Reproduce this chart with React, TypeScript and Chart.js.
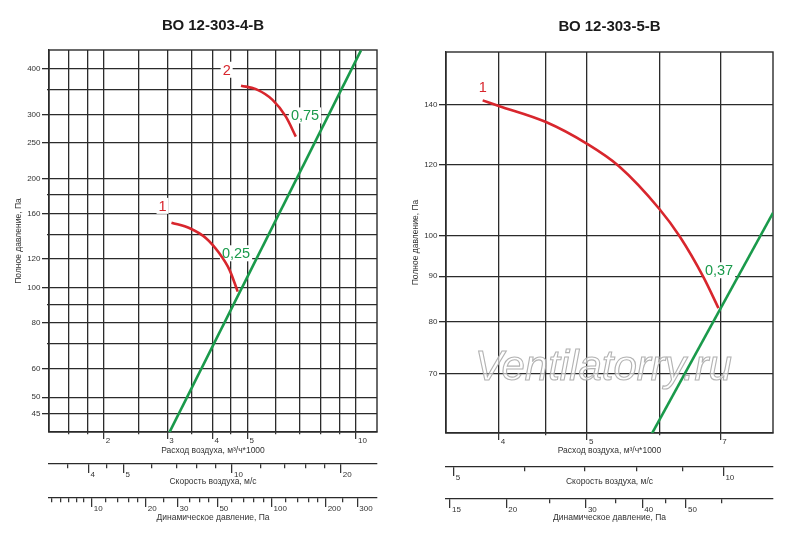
import { useEffect, useRef } from 'react'
import { Chart, registerables } from 'chart.js'

Chart.register(...registerables)

const SANS = '"Liberation Sans", Arial, sans-serif'
const INK = '#2b2b2b'
const RED = '#d8262d'
const GREEN = '#1a9a4b'

// ВО 12-303-4-В
const leftFlowRange = [1.41, 11.43]
const leftPressRange = [40.1, 451]
const leftSpeedRange = [3.11, 25.2]
const leftDynRange = [5.79, 386]
const leftFlowGrid = [1.6, 1.8, 2, 2.5, 3, 3.5, 4, 4.5, 5, 6, 7, 8, 9, 10]
const leftFlowLabels = [2, 3, 4, 5, 10]
const leftPressGrid = [45, 50, 60, 70, 80, 90, 100, 120, 140, 160, 180, 200, 250, 300, 350, 400]
const leftPressLabels = [45, 50, 60, 80, 100, 120, 160, 200, 250, 300, 400]
const leftSpeedTicks = [3.5, 4, 4.5, 5, 6, 7, 8, 9, 10, 12, 14, 16, 18, 20]
const leftSpeedLabels = [4, 5, 10, 20]
const leftDynTicks = [6, 6.7, 7.4, 8.2, 9, 10, 12, 14, 16, 18, 20, 25, 30, 35, 40, 45, 50, 60, 70, 80, 90, 100, 120, 140, 160, 180, 200, 250, 300]
const leftDynLabels = [10, 20, 30, 50, 100, 200, 300]

const leftFan1Flow = [3.08, 3.46, 3.84, 4.18, 4.46, 4.7]
const leftFan1Press = [151, 145.8, 136.9, 124.4, 112, 97.6]
const leftFan2Flow = [4.8, 5.28, 5.87, 6.39, 6.81]
const leftFan2Press = [359.8, 351.9, 328.7, 295.6, 260.5]
const leftSystemFlow = [3.04, 10.32]
const leftSystemPress = [40, 450]

const leftNoteText = ['1', '2', '0,25', '0,75']
const leftNoteFlow = [2.91, 4.38, 4.65, 7.22]
const leftNotePress = [168, 398, 124.4, 298]
const leftNoteColor = [RED, RED, GREEN, GREEN]

// ВО 12-303-5-В
const rightFlowRange = [3.5, 8]
const rightPressRange = [60.1, 160.4]
const rightSpeedRange = [4.94, 11.36]
const rightDynRange = [14.7, 77.9]
const rightFlowGrid = [4, 4.5, 5, 6, 7]
const rightFlowLabels = [4, 5, 7]
const rightPressGrid = [70, 80, 90, 100, 120, 140]
const rightPressLabels = [70, 80, 90, 100, 120, 140]
const rightSpeedTicks = [5, 6, 7, 8, 9, 10]
const rightSpeedLabels = [5, 10]
const rightDynTicks = [15, 20, 25, 30, 35, 40, 45, 50, 60]
const rightDynLabels = [15, 20, 30, 40, 50]

const rightFan1Flow = [3.84, 4, 4.5, 5, 5.42, 6, 6.32, 6.71, 6.97]
const rightFan1Press = [141.6, 139.6, 134, 126.6, 119.5, 107.1, 99.7, 89.8, 82.9]
const rightSystemFlow = [5.89, 8]
const rightSystemPress = [60, 106]

const rightNoteText = ['1', '0,37']
const rightNoteFlow = [3.84, 6.98]
const rightNotePress = [146.5, 91.4]
const rightNoteColor = [RED, GREEN]

interface Curve { flow: number[]; press: number[]; color: string; smooth: boolean }

interface Frame {
  yWidth: number
  yTitlePad: number
  padRight: number
  padBottom: number
  titleTop: number
  titleBottom: number
  xHeight: number
  xTitlePad: number
  vHeight: number
  vTitlePad: number
  dHeight: number
  dTitlePad: number
}

interface FanProps {
  title: string
  flowRange: number[]; flowGrid: number[]; flowLabels: number[]
  pressRange: number[]; pressGrid: number[]; pressLabels: number[]
  speedRange: number[]; speedTicks: number[]; speedLabels: number[]
  dynRange: number[]; dynTicks: number[]; dynLabels: number[]
  curves: Curve[]
  noteText: string[]; noteFlow: number[]; notePress: number[]; noteColor: string[]
  watermark?: { text: string; flow: number; press: number }
  frame: Frame
}

const tickFont = { family: SANS, size: 8 }
const titleFont = { family: SANS, size: 8.5 }

function bottomAxis(range: number[], ticks: number[], labels: number[], title: string,
  height: number, titlePad: number, weight: number, onArea: boolean, tickLength: number) {
  return {
    type: 'logarithmic',
    axis: 'x',
    position: 'bottom',
    weight,
    min: range[0],
    max: range[1],
    afterBuildTicks: (s: any) => { s.ticks = ticks.map(v => ({ value: v })) },
    afterFit: (s: any) => { s.height = height },
    ticks: {
      autoSkip: false,
      maxRotation: 0,
      minRotation: 0,
      align: 'start',
      labelOffset: 2,
      padding: -3.5,
      color: '#333',
      font: tickFont,
      callback: (v: any) => (labels.includes(Number(v)) ? String(v) : ''),
    },
    grid: {
      drawOnChartArea: onArea,
      color: INK,
      lineWidth: 1.3,
      tickLength,
      tickWidth: 1.2,
      tickColor: INK,
      tickBorderDash: (c: any) => (labels.includes(c.tick?.value) ? [] : [onArea ? 2 : 4, 30]),
    },
    border: { display: true, color: INK, width: 1.3 },
    title: { display: true, text: title, color: '#333', font: titleFont, padding: { top: 0, bottom: titlePad } },
  }
}

function FanChart(p: FanProps) {
  const ref = useRef<HTMLCanvasElement>(null)

  useEffect(() => {
    if (!ref.current) return
    const f = p.frame

    const framePlugin = {
      id: 'frame',
      beforeDatasetsDraw(chart: any) {
        const { ctx, chartArea: a } = chart
        ctx.save()
        ctx.strokeStyle = INK
        ctx.lineWidth = 1.4
        ctx.strokeRect(a.left, a.top, a.right - a.left, a.bottom - a.top)
        ctx.restore()
      },
    }

    const notesPlugin = {
      id: 'notes',
      beforeDatasetsDraw(chart: any) {
        const { ctx, scales } = chart
        ctx.save()
        ctx.font = `14.5px ${SANS}`
        ctx.textAlign = 'center'
        ctx.textBaseline = 'middle'
        p.noteText.forEach((t, i) => {
          const x = scales.x.getPixelForValue(p.noteFlow[i])
          const y = scales.y.getPixelForValue(p.notePress[i])
          const w = ctx.measureText(t).width
          ctx.fillStyle = '#fff'
          ctx.fillRect(x - w / 2 - 2, y - 8, w + 4, 16)
          ctx.fillStyle = p.noteColor[i]
          ctx.fillText(t, x, y + 1)
        })
        ctx.restore()
      },
    }

    const markPlugin = {
      id: 'mark',
      afterDraw(chart: any) {
        if (!p.watermark) return
        const { ctx, scales } = chart
        const x = scales.x.getPixelForValue(p.watermark.flow)
        const y = scales.y.getPixelForValue(p.watermark.press)
        ctx.save()
        ctx.font = `italic 42px ${SANS}`
        ctx.textAlign = 'center'
        ctx.textBaseline = 'middle'
        ctx.fillStyle = 'rgba(255,255,255,0.6)'
        ctx.fillText(p.watermark.text, x, y)
        ctx.strokeStyle = 'rgba(170,170,170,0.9)'
        ctx.lineWidth = 1.1
        ctx.strokeText(p.watermark.text, x, y)
        ctx.restore()
      },
    }

    const chart = new Chart(ref.current, {
      type: 'line',
      data: {
        datasets: p.curves.map(c => ({
          data: c.flow.map((x, i) => ({ x, y: c.press[i] })),
          borderColor: c.color,
          borderWidth: 2.6,
          pointRadius: 0,
          fill: false,
          tension: 0,
          cubicInterpolationMode: c.smooth ? 'monotone' : 'default',
          xAxisID: 'x',
          yAxisID: 'y',
        })),
      } as any,
      options: {
        animation: false,
        responsive: true,
        maintainAspectRatio: false,
        events: [],
        layout: { padding: { left: 0, top: 0, right: f.padRight, bottom: f.padBottom } },
        scales: {
          x: bottomAxis(p.flowRange, p.flowGrid, p.flowLabels, 'Расход воздуха, м³/ч*1000',
            f.xHeight, f.xTitlePad, 0, true, 7),
          y: {
            type: 'logarithmic',
            position: 'left',
            min: p.pressRange[0],
            max: p.pressRange[1],
            afterBuildTicks: (s: any) => { s.ticks = p.pressGrid.map(v => ({ value: v })) },
            afterFit: (s: any) => { s.width = f.yWidth },
            ticks: {
              autoSkip: false,
              padding: 1.5,
              color: '#333',
              font: tickFont,
              callback: (v: any) => (p.pressLabels.includes(Number(v)) ? String(v) : ''),
            },
            grid: {
              color: INK,
              lineWidth: 1.3,
              tickLength: 7,
              tickColor: INK,
              tickBorderDash: (c: any) => (p.pressLabels.includes(c.tick?.value) ? [] : [0, 5, 2, 30]),
            },
            border: { display: true, color: INK, width: 1.3 },
            title: {
              display: true,
              text: 'Полное давление, Па',
              color: '#333',
              font: titleFont,
              padding: { top: f.yTitlePad, bottom: 0 },
            },
          },
          v: bottomAxis(p.speedRange, p.speedTicks, p.speedLabels, 'Скорость воздуха, м/с',
            f.vHeight, f.vTitlePad, 1, false, 9),
          pd: bottomAxis(p.dynRange, p.dynTicks, p.dynLabels, 'Динамическое давление, Па',
            f.dHeight, f.dTitlePad, 2, false, 9),
        } as any,
        plugins: {
          legend: { display: false },
          tooltip: { enabled: false },
          title: {
            display: true,
            text: p.title,
            fullSize: false,
            color: '#1a1a1a',
            font: { family: SANS, size: 15, weight: 'bold' },
            padding: { top: f.titleTop, bottom: f.titleBottom },
          },
        },
      },
      plugins: [framePlugin, notesPlugin, markPlugin],
    })

    return () => chart.destroy()
  }, [])

  return (
    <div style={{ position: 'relative', width: 400, height: 540 }}>
      <canvas ref={ref}></canvas>
    </div>
  )
}

const leftFrame: Frame = {
  yWidth: 49, yTitlePad: 14, padRight: 23, padBottom: 10,
  titleTop: 17, titleBottom: 15,
  xHeight: 32, xTitlePad: 7.9, vHeight: 34, vTitlePad: 11.4, dHeight: 32, dTitlePad: 6.9,
}

const rightFrame: Frame = {
  yWidth: 46, yTitlePad: 11, padRight: 27, padBottom: 9,
  titleTop: 18, titleBottom: 16,
  xHeight: 34, xTitlePad: 10.9, vHeight: 32, vTitlePad: 11.9, dHeight: 32, dTitlePad: 7.9,
}

export default function App() {
  return (
    <div style={{ position: 'absolute', left: 0, top: 0, width: 800, height: 540, display: 'flex', background: '#fff' }}>
      <FanChart
        title="ВО 12-303-4-В"
        flowRange={leftFlowRange} flowGrid={leftFlowGrid} flowLabels={leftFlowLabels}
        pressRange={leftPressRange} pressGrid={leftPressGrid} pressLabels={leftPressLabels}
        speedRange={leftSpeedRange} speedTicks={leftSpeedTicks} speedLabels={leftSpeedLabels}
        dynRange={leftDynRange} dynTicks={leftDynTicks} dynLabels={leftDynLabels}
        curves={[
          { flow: leftSystemFlow, press: leftSystemPress, color: GREEN, smooth: false },
          { flow: leftFan1Flow, press: leftFan1Press, color: RED, smooth: true },
          { flow: leftFan2Flow, press: leftFan2Press, color: RED, smooth: true },
        ]}
        noteText={leftNoteText} noteFlow={leftNoteFlow} notePress={leftNotePress} noteColor={leftNoteColor}
        frame={leftFrame}
      />
      <FanChart
        title="ВО 12-303-5-В"
        flowRange={rightFlowRange} flowGrid={rightFlowGrid} flowLabels={rightFlowLabels}
        pressRange={rightPressRange} pressGrid={rightPressGrid} pressLabels={rightPressLabels}
        speedRange={rightSpeedRange} speedTicks={rightSpeedTicks} speedLabels={rightSpeedLabels}
        dynRange={rightDynRange} dynTicks={rightDynTicks} dynLabels={rightDynLabels}
        curves={[
          { flow: rightSystemFlow, press: rightSystemPress, color: GREEN, smooth: false },
          { flow: rightFan1Flow, press: rightFan1Press, color: RED, smooth: true },
        ]}
        noteText={rightNoteText} noteFlow={rightNoteFlow} notePress={rightNotePress} noteColor={rightNoteColor}
        watermark={{ text: 'Ventilatorry.ru', flow: 5.21, press: 71 }}
        frame={rightFrame}
      />
    </div>
  )
}
